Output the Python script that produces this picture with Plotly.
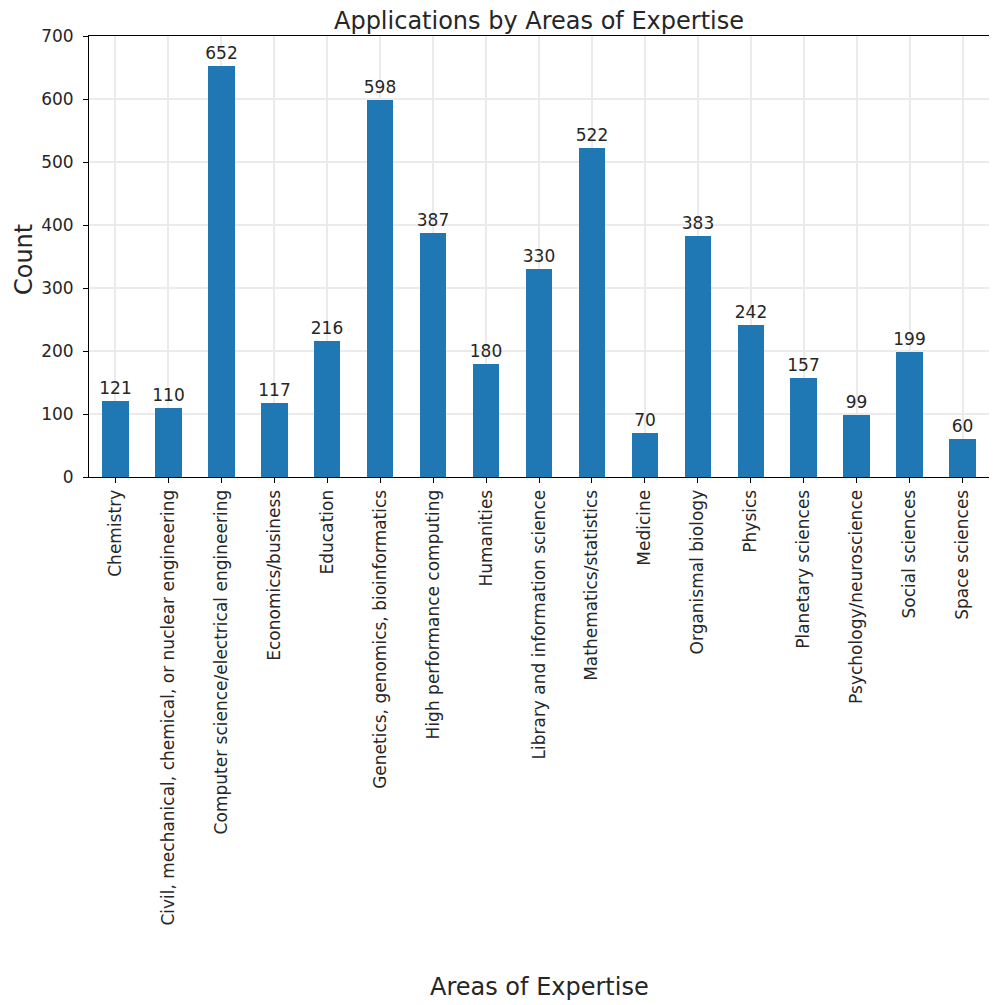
import plotly.graph_objects as go

categories = ["Chemistry", "Civil, mechanical, chemical, or nuclear engineering",
              "Computer science/electrical engineering", "Economics/business", "Education",
              "Genetics, genomics, bioinformatics", "High performance computing", "Humanities",
              "Library and information science", "Mathematics/statistics", "Medicine",
              "Organismal biology", "Physics", "Planetary sciences", "Psychology/neuroscience",
              "Social sciences", "Space sciences"]
counts = [121, 110, 652, 117, 216, 598, 387, 180, 330, 522, 70, 383, 242, 157, 99, 199, 60]
y_ticks = [0, 100, 200, 300, 400, 500, 600, 700]

font = "DejaVu Sans, Arial, sans-serif"
txt = "#262626"
W, H = 989, 997
L, R, T, B = 81, 8, 28, 528
plot_h = H - T - B

fig = go.Figure(go.Bar(
    x=list(range(len(categories))), y=counts, width=0.5,
    marker=dict(color="#1f77b4", line=dict(width=0)),
    text=[str(c) for c in counts], textposition="outside", cliponaxis=False,
    constraintext="none",
    textfont=dict(family=font, size=17, color=txt),
))
fig.update_layout(
    width=W, height=H, plot_bgcolor="white", paper_bgcolor="white",
    margin=dict(l=L, r=R, t=T, b=B),
    font=dict(family=font, color=txt),
    title=dict(text="Applications by Areas of Expertise", xref="paper", x=0.5, xanchor="center",
               yref="container", y=1 - 13 / H, yanchor="middle", font=dict(size=24, color=txt)),
    showlegend=False, bargap=0,
    annotations=[
        dict(text="Count", xref="paper", yref="paper", x=(16 - L) / 900, y=0.492,
             xanchor="center", yanchor="middle", textangle=-90, showarrow=False,
             font=dict(size=24, color=txt)),
        dict(text="Areas of Expertise", xref="paper", yref="paper", x=0.5,
             y=(H - B - 979) / plot_h, xanchor="center", yanchor="middle", showarrow=False,
             font=dict(size=24, color=txt)),
    ],
)
fig.update_xaxes(
    tickmode="array", tickvals=list(range(len(categories))), ticktext=categories,
    tickangle=-90, range=[-0.5, len(categories) - 0.5],
    showline=True, linecolor="black", linewidth=1, mirror=True,
    ticks="outside", ticklen=5, tickcolor="black",
    showgrid=True, gridcolor="#ebebeb", gridwidth=1.5,
    tickfont=dict(size=17, color=txt),
    automargin=False, zeroline=False,
)
fig.update_yaxes(
    range=[0, 700], tickvals=y_ticks,
    showline=True, linecolor="black", linewidth=1, mirror=True,
    ticks="outside", ticklen=5, tickcolor="black", ticklabelstandoff=6,
    showgrid=True, gridcolor="#ebebeb", gridwidth=1.5,
    tickfont=dict(size=17, color=txt),
    automargin=False, zeroline=False,
)
fig.write_html("out.html")
